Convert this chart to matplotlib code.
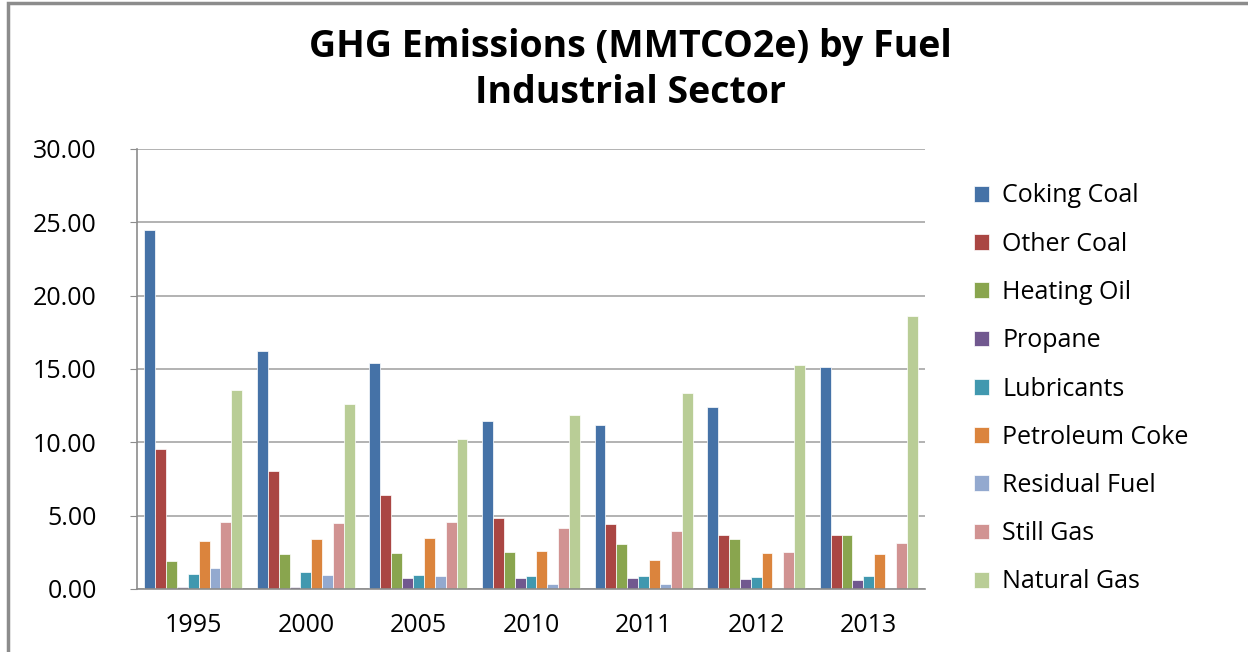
import numpy as np
import matplotlib
matplotlib.use("Agg")
import matplotlib.pyplot as plt
from matplotlib.patches import Rectangle

# ---- data ----
years = ["1995", "2000", "2005", "2010", "2011", "2012", "2013"]
fuels = ["Coking Coal", "Other Coal", "Heating Oil", "Propane", "Lubricants",
         "Petroleum Coke", "Residual Fuel", "Still Gas", "Natural Gas"]
coking_coal = [24.50, 16.25, 15.38, 11.43, 11.18, 12.40, 15.11]
other_coal = [9.52, 8.02, 6.39, 4.82, 4.45, 3.66, 3.66]
heating_oil = [1.93, 2.36, 2.43, 2.55, 3.05, 3.41, 3.66]
propane = [0.16, 0.16, 0.77, 0.77, 0.77, 0.70, 0.61]
lubricants = [1.05, 1.14, 0.95, 0.89, 0.89, 0.80, 0.89]
petroleum_coke = [3.30, 3.41, 3.50, 2.61, 2.00, 2.43, 2.36]
residual_fuel = [1.41, 0.95, 0.89, 0.36, 0.36, 0.09, 0.09]
still_gas = [4.55, 4.48, 4.55, 4.14, 3.93, 2.55, 3.16]
natural_gas = [13.55, 12.59, 10.20, 11.88, 13.36, 15.29, 18.60]
yticks = [0, 5, 10, 15, 20, 25, 30]

series = [coking_coal, other_coal, heating_oil, propane, lubricants,
          petroleum_coke, residual_fuel, still_gas, natural_gas]
colors = ["#4572A7", "#AA4643", "#89A54E", "#71588F", "#4198AF",
          "#DB843D", "#93A9CF", "#D19392", "#B9CD96"]

plt.rcParams['font.family'] = ['Open Sans', 'DejaVu Sans']

fig = plt.figure(figsize=(12.48, 6.52), dpi=100)
ax = fig.add_axes([137/1248, 1-589/652, (925-137)/1248, (589-149)/652])

# outer chart border (cropped at right/bottom like the screenshot)
fig.patches.append(Rectangle((8/1248, -0.1), 1.2, 1-3/652+0.1, transform=fig.transFigure,
                             fill=False, edgecolor="#8c8c8c", linewidth=2.5))

x = np.arange(len(years))
n = len(series)
group_w = 0.87
bw = group_w / n
for i, (vals, c) in enumerate(zip(series, colors)):
    ax.bar(x - group_w/2 + bw*(i+0.5), vals, width=bw, color=c,
           edgecolor="white", linewidth=0.5, label=fuels[i], zorder=3)

ax.set_xlim(-0.5, len(years)-0.5)
ax.set_ylim(0, 30)
ax.set_yticks(yticks)
ax.set_yticklabels(["%.2f" % v for v in yticks], fontsize=18)
ax.set_xticks(x)
ax.set_xticklabels(years, fontsize=18)
ax.tick_params(axis='x', length=0, pad=17)
ax.tick_params(axis='y', length=5, color="#8c8c8c", pad=24)
ax.grid(axis='y', color="#a6a6a6", linewidth=1.2, zorder=0)
for s in ["top", "right"]:
    ax.spines[s].set_visible(False)
for s in ["left", "bottom"]:
    ax.spines[s].set_color("#8c8c8c")
    ax.spines[s].set_linewidth(1.2)
    ax.spines[s].set_zorder(4)

fig.text(630/1248, 1-70/652, "GHG Emissions (MMTCO2e) by Fuel\nIndustrial Sector",
         ha="center", va="center", fontsize=27, fontweight="bold", linespacing=1.25)

fig.legend(loc="upper left", bbox_to_anchor=(951/1248, 1-161/652), frameon=False,
           fontsize=18, handlelength=0.6, handleheight=0.6, handletextpad=0.55,
           labelspacing=0.93)

fig.savefig("out.png", dpi=100)
